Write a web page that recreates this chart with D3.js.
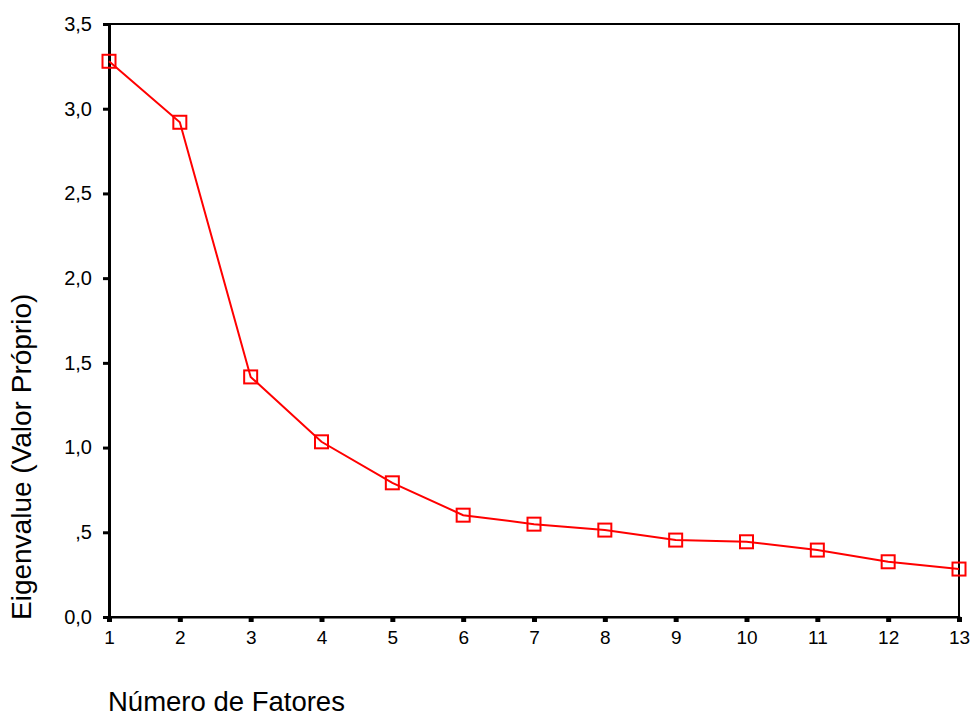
<!DOCTYPE html>
<html>
<head>
<meta charset="utf-8">
<script src="https://cdn.jsdelivr.net/npm/d3@7"></script>
<style>
  body { margin: 0; background: #fff; }
  text { font-family: "Liberation Sans", Arial, sans-serif; fill: #000; }
</style>
</head>
<body>
<div id="chart"></div>
<script>
// fatores e autovalores (scree plot)
const fatores = [1, 2, 3, 4, 5, 6, 7, 8, 9, 10, 11, 12, 13];
const eigenvalues = [3.28, 2.92, 1.417, 1.034, 0.792, 0.601, 0.548, 0.513, 0.454, 0.444, 0.395, 0.326, 0.283];
const yTicks = [0, 0.5, 1.0, 1.5, 2.0, 2.5, 3.0, 3.5];
const yTickLabels = ["0,0", ",5", "1,0", "1,5", "2,0", "2,5", "3,0", "3,5"];
const xTitle = "Número de Fatores";
const yTitle = "Eigenvalue (Valor Próprio)";

const width = 974, height = 718;
const margin = { top: 24, right: 15, bottom: 101, left: 109 };
const w = width - margin.left - margin.right;
const h = height - margin.top - margin.bottom;

const svg = d3.select("#chart").append("svg")
  .attr("width", width)
  .attr("height", height);

const g = svg.append("g")
  .attr("transform", `translate(${margin.left}, ${margin.top})`);

const x = d3.scaleLinear().domain([1, 13]).range([0, w]);
const y = d3.scaleLinear().domain([0, 3.5]).range([h, 0]);

// frame
g.append("rect")
  .attr("x", 0).attr("y", 0)
  .attr("width", w).attr("height", h)
  .attr("fill", "none")
  .attr("stroke", "#000")
  .attr("stroke-width", 2);

// y axis
const yAxis = d3.axisLeft(y)
  .tickValues(yTicks)
  .tickFormat((d, i) => yTickLabels[i])
  .tickSize(6)
  .tickPadding(11);
const ya = g.append("g").attr("class", "y axis").call(yAxis);
ya.select(".domain").attr("stroke-width", 3);
ya.selectAll(".tick line").attr("stroke-width", 3);
ya.selectAll(".tick text").style("font-size", "20px");

// x axis
const xAxis = d3.axisBottom(x)
  .tickValues(fatores)
  .tickFormat(d3.format("d"))
  .tickSize(5)
  .tickPadding(9);
const xa = g.append("g").attr("class", "x axis")
  .attr("transform", `translate(0, ${h})`)
  .call(xAxis);
xa.select(".domain").attr("stroke-width", 2);
xa.selectAll(".tick line").attr("stroke-width", 5);
xa.selectAll(".tick text").style("font-size", "19px");

// line
const data = fatores.map((f, i) => ({ f: f, v: eigenvalues[i] }));
const line = d3.line().x(d => x(d.f)).y(d => y(d.v));

g.append("path")
  .datum(data)
  .attr("d", line)
  .attr("fill", "none")
  .attr("stroke", "#ff0000")
  .attr("stroke-width", 2);

// markers
const s = 13;
g.selectAll(".marker")
  .data(data)
  .enter()
  .append("rect")
  .attr("class", "marker")
  .attr("x", d => x(d.f) - s / 2)
  .attr("y", d => y(d.v) - s / 2)
  .attr("width", s)
  .attr("height", s)
  .attr("fill", "none")
  .attr("stroke", "#ff0000")
  .attr("stroke-width", 2);

// titles
svg.append("text")
  .attr("x", 108)
  .attr("y", 711)
  .style("font-size", "27.5px")
  .text(xTitle);

svg.append("text")
  .attr("transform", "translate(31, 620) rotate(-90)")
  .style("font-size", "28px")
  .text(yTitle);
</script>
</body>
</html>
